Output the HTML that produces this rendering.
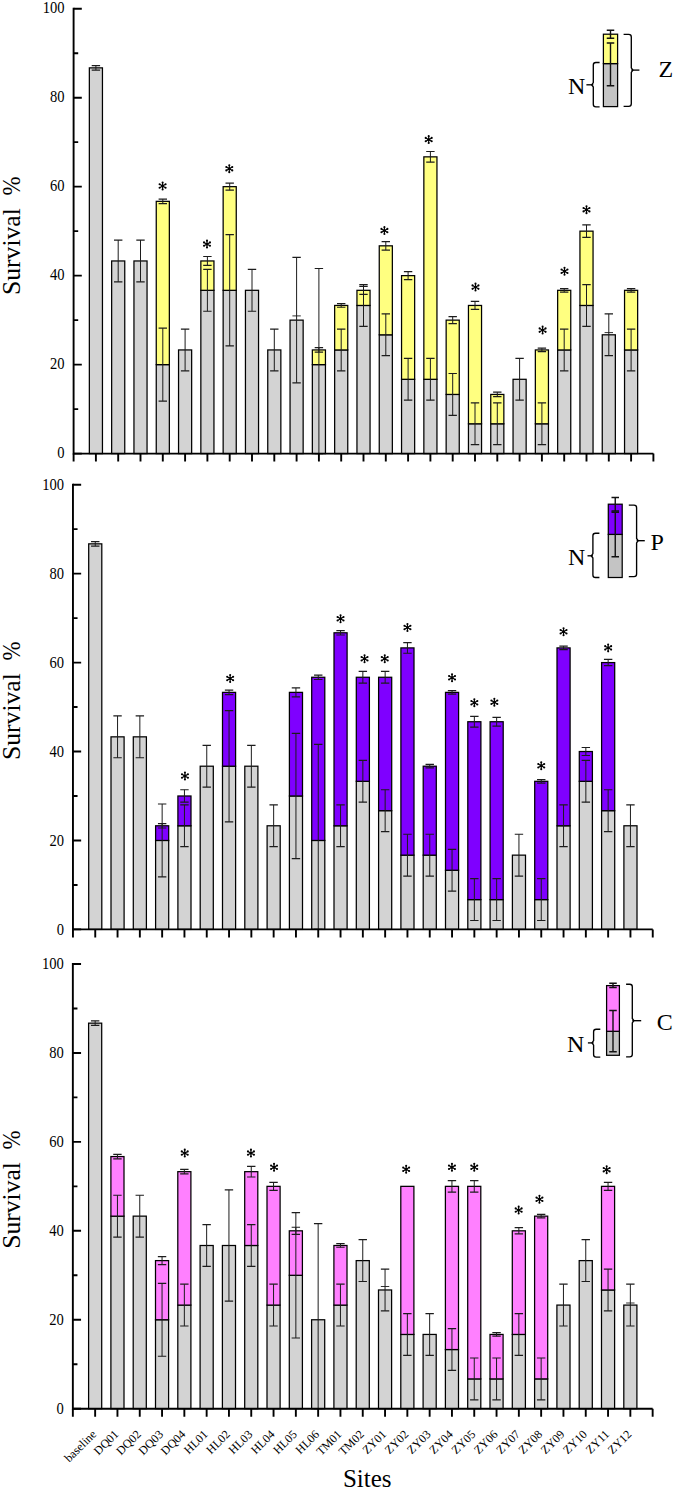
<!DOCTYPE html><html><head><meta charset="utf-8"><title>Survival chart</title><style>
html,body{margin:0;padding:0;background:#fff;}
body{width:675px;height:1490px;overflow:hidden;}
svg{display:block;}
text{font-family:"Liberation Serif",serif;fill:#000;}
.tl{font-size:16px;text-anchor:end;}
.yt{font-size:26px;}
.lg{font-size:24px;}
.xl{font-size:12px;text-anchor:end;}
.xt{font-size:25px;text-anchor:middle;}
</style></head><body><svg width="675" height="1490" viewBox="0 0 675 1490"><rect width="675" height="1490" fill="#fff"/><rect x="89.35" y="67.87" width="13.1" height="385.73" fill="#d3d3d3" stroke="#000" stroke-width="1.25"/><rect x="111.65" y="260.96" width="13.1" height="192.64" fill="#d3d3d3" stroke="#000" stroke-width="1.25"/><rect x="133.95" y="260.96" width="13.1" height="192.64" fill="#d3d3d3" stroke="#000" stroke-width="1.25"/><rect x="156.25" y="364.62" width="13.1" height="88.98" fill="#d3d3d3" stroke="#000" stroke-width="1.25"/><rect x="156.25" y="201.34" width="13.1" height="163.28" fill="#ffff80" stroke="#000" stroke-width="1.25"/><rect x="178.55" y="349.94" width="13.1" height="103.66" fill="#d3d3d3" stroke="#000" stroke-width="1.25"/><rect x="200.85" y="290.32" width="13.1" height="163.28" fill="#d3d3d3" stroke="#000" stroke-width="1.25"/><rect x="200.85" y="260.96" width="13.1" height="29.36" fill="#ffff80" stroke="#000" stroke-width="1.25"/><rect x="223.15" y="290.32" width="13.1" height="163.28" fill="#d3d3d3" stroke="#000" stroke-width="1.25"/><rect x="223.15" y="186.66" width="13.1" height="103.66" fill="#ffff80" stroke="#000" stroke-width="1.25"/><rect x="245.45" y="290.32" width="13.1" height="163.28" fill="#d3d3d3" stroke="#000" stroke-width="1.25"/><rect x="267.75" y="349.94" width="13.1" height="103.66" fill="#d3d3d3" stroke="#000" stroke-width="1.25"/><rect x="290.05" y="320.13" width="13.1" height="133.47" fill="#d3d3d3" stroke="#000" stroke-width="1.25"/><rect x="312.35" y="364.62" width="13.1" height="88.98" fill="#d3d3d3" stroke="#000" stroke-width="1.25"/><rect x="312.35" y="349.94" width="13.1" height="14.68" fill="#ffff80" stroke="#000" stroke-width="1.25"/><rect x="334.65" y="349.94" width="13.1" height="103.66" fill="#d3d3d3" stroke="#000" stroke-width="1.25"/><rect x="334.65" y="305.45" width="13.1" height="44.49" fill="#ffff80" stroke="#000" stroke-width="1.25"/><rect x="356.95" y="305.45" width="13.1" height="148.15" fill="#d3d3d3" stroke="#000" stroke-width="1.25"/><rect x="356.95" y="290.32" width="13.1" height="15.13" fill="#ffff80" stroke="#000" stroke-width="1.25"/><rect x="379.25" y="334.81" width="13.1" height="118.79" fill="#d3d3d3" stroke="#000" stroke-width="1.25"/><rect x="379.25" y="245.83" width="13.1" height="88.98" fill="#ffff80" stroke="#000" stroke-width="1.25"/><rect x="401.55" y="379.3" width="13.1" height="74.3" fill="#d3d3d3" stroke="#000" stroke-width="1.25"/><rect x="401.55" y="275.64" width="13.1" height="103.66" fill="#ffff80" stroke="#000" stroke-width="1.25"/><rect x="423.85" y="379.3" width="13.1" height="74.3" fill="#d3d3d3" stroke="#000" stroke-width="1.25"/><rect x="423.85" y="156.85" width="13.1" height="222.45" fill="#ffff80" stroke="#000" stroke-width="1.25"/><rect x="446.15" y="394.43" width="13.1" height="59.17" fill="#d3d3d3" stroke="#000" stroke-width="1.25"/><rect x="446.15" y="320.13" width="13.1" height="74.3" fill="#ffff80" stroke="#000" stroke-width="1.25"/><rect x="468.45" y="423.79" width="13.1" height="29.81" fill="#d3d3d3" stroke="#000" stroke-width="1.25"/><rect x="468.45" y="305.45" width="13.1" height="118.34" fill="#ffff80" stroke="#000" stroke-width="1.25"/><rect x="490.75" y="423.79" width="13.1" height="29.81" fill="#d3d3d3" stroke="#000" stroke-width="1.25"/><rect x="490.75" y="394.43" width="13.1" height="29.36" fill="#ffff80" stroke="#000" stroke-width="1.25"/><rect x="513.05" y="379.3" width="13.1" height="74.3" fill="#d3d3d3" stroke="#000" stroke-width="1.25"/><rect x="535.35" y="423.79" width="13.1" height="29.81" fill="#d3d3d3" stroke="#000" stroke-width="1.25"/><rect x="535.35" y="349.94" width="13.1" height="73.85" fill="#ffff80" stroke="#000" stroke-width="1.25"/><rect x="557.65" y="349.94" width="13.1" height="103.66" fill="#d3d3d3" stroke="#000" stroke-width="1.25"/><rect x="557.65" y="290.32" width="13.1" height="59.62" fill="#ffff80" stroke="#000" stroke-width="1.25"/><rect x="579.95" y="305.45" width="13.1" height="148.15" fill="#d3d3d3" stroke="#000" stroke-width="1.25"/><rect x="579.95" y="231.15" width="13.1" height="74.3" fill="#ffff80" stroke="#000" stroke-width="1.25"/><rect x="602.25" y="334.81" width="13.1" height="118.79" fill="#d3d3d3" stroke="#000" stroke-width="1.25"/><rect x="624.55" y="349.94" width="13.1" height="103.66" fill="#d3d3d3" stroke="#000" stroke-width="1.25"/><rect x="624.55" y="290.32" width="13.1" height="59.62" fill="#ffff80" stroke="#000" stroke-width="1.25"/><path d="M95.9 65.65V70.1" stroke="#1c1c1c" stroke-width="1" fill="none"/><path d="M91.7 65.65H100.1M91.7 70.1H100.1" stroke="#1c1c1c" stroke-width="1.2" fill="none"/><path d="M118.2 240.05V281.87" stroke="#1c1c1c" stroke-width="1" fill="none"/><path d="M114 240.05H122.4M114 281.87H122.4" stroke="#1c1c1c" stroke-width="1.2" fill="none"/><path d="M140.5 240.05V281.87" stroke="#1c1c1c" stroke-width="1" fill="none"/><path d="M136.3 240.05H144.7M136.3 281.87H144.7" stroke="#1c1c1c" stroke-width="1.2" fill="none"/><path d="M162.8 328.14V401.1" stroke="#1c1c1c" stroke-width="1" fill="none"/><path d="M158.6 328.14H167M158.6 401.1H167" stroke="#1c1c1c" stroke-width="1.2" fill="none"/><path d="M162.8 199.12V203.57" stroke="#1c1c1c" stroke-width="1" fill="none"/><path d="M158.6 199.12H167M158.6 203.57H167" stroke="#1c1c1c" stroke-width="1.2" fill="none"/><path d="M185.1 329.03V370.85" stroke="#1c1c1c" stroke-width="1" fill="none"/><path d="M180.9 329.03H189.3M180.9 370.85H189.3" stroke="#1c1c1c" stroke-width="1.2" fill="none"/><path d="M207.4 269.41V311.23" stroke="#1c1c1c" stroke-width="1" fill="none"/><path d="M203.2 269.41H211.6M203.2 311.23H211.6" stroke="#1c1c1c" stroke-width="1.2" fill="none"/><path d="M207.4 256.51V265.41" stroke="#1c1c1c" stroke-width="1" fill="none"/><path d="M203.2 256.51H211.6M203.2 265.41H211.6" stroke="#1c1c1c" stroke-width="1.2" fill="none"/><path d="M229.7 234.71V345.93" stroke="#1c1c1c" stroke-width="1" fill="none"/><path d="M225.5 234.71H233.9M225.5 345.93H233.9" stroke="#1c1c1c" stroke-width="1.2" fill="none"/><path d="M229.7 183.1V190.22" stroke="#1c1c1c" stroke-width="1" fill="none"/><path d="M225.5 183.1H233.9M225.5 190.22H233.9" stroke="#1c1c1c" stroke-width="1.2" fill="none"/><path d="M252 269.41V311.23" stroke="#1c1c1c" stroke-width="1" fill="none"/><path d="M247.8 269.41H256.2M247.8 311.23H256.2" stroke="#1c1c1c" stroke-width="1.2" fill="none"/><path d="M274.3 329.03V370.85" stroke="#1c1c1c" stroke-width="1" fill="none"/><path d="M270.1 329.03H278.5M270.1 370.85H278.5" stroke="#1c1c1c" stroke-width="1.2" fill="none"/><path d="M296.6 257.4V382.86" stroke="#1c1c1c" stroke-width="1" fill="none"/><path d="M292.4 257.4H300.8M292.4 382.86H300.8" stroke="#1c1c1c" stroke-width="1.2" fill="none"/><path d="M318.9 268.52V453.6" stroke="#1c1c1c" stroke-width="1" fill="none"/><path d="M314.7 268.52H323.1M314.7 453.6H323.1" stroke="#1c1c1c" stroke-width="1.2" fill="none"/><path d="M318.9 347.71V352.16" stroke="#1c1c1c" stroke-width="1" fill="none"/><path d="M314.7 347.71H323.1M314.7 352.16H323.1" stroke="#1c1c1c" stroke-width="1.2" fill="none"/><path d="M341.2 329.03V370.85" stroke="#1c1c1c" stroke-width="1" fill="none"/><path d="M337 329.03H345.4M337 370.85H345.4" stroke="#1c1c1c" stroke-width="1.2" fill="none"/><path d="M341.2 303.67V307.23" stroke="#1c1c1c" stroke-width="1" fill="none"/><path d="M337 303.67H345.4M337 307.23H345.4" stroke="#1c1c1c" stroke-width="1.2" fill="none"/><path d="M363.5 284.54V326.36" stroke="#1c1c1c" stroke-width="1" fill="none"/><path d="M359.3 284.54H367.7M359.3 326.36H367.7" stroke="#1c1c1c" stroke-width="1.2" fill="none"/><path d="M363.5 286.32V294.33" stroke="#1c1c1c" stroke-width="1" fill="none"/><path d="M359.3 286.32H367.7M359.3 294.33H367.7" stroke="#1c1c1c" stroke-width="1.2" fill="none"/><path d="M385.8 313.9V355.72" stroke="#1c1c1c" stroke-width="1" fill="none"/><path d="M381.6 313.9H390M381.6 355.72H390" stroke="#1c1c1c" stroke-width="1.2" fill="none"/><path d="M385.8 241.61V250.06" stroke="#1c1c1c" stroke-width="1" fill="none"/><path d="M381.6 241.61H390M381.6 250.06H390" stroke="#1c1c1c" stroke-width="1.2" fill="none"/><path d="M408.1 358.39V400.21" stroke="#1c1c1c" stroke-width="1" fill="none"/><path d="M403.9 358.39H412.3M403.9 400.21H412.3" stroke="#1c1c1c" stroke-width="1.2" fill="none"/><path d="M408.1 271.64V279.64" stroke="#1c1c1c" stroke-width="1" fill="none"/><path d="M403.9 271.64H412.3M403.9 279.64H412.3" stroke="#1c1c1c" stroke-width="1.2" fill="none"/><path d="M430.4 358.39V400.21" stroke="#1c1c1c" stroke-width="1" fill="none"/><path d="M426.2 358.39H434.6M426.2 400.21H434.6" stroke="#1c1c1c" stroke-width="1.2" fill="none"/><path d="M430.4 151.51V162.19" stroke="#1c1c1c" stroke-width="1" fill="none"/><path d="M426.2 151.51H434.6M426.2 162.19H434.6" stroke="#1c1c1c" stroke-width="1.2" fill="none"/><path d="M452.7 373.52V415.34" stroke="#1c1c1c" stroke-width="1" fill="none"/><path d="M448.5 373.52H456.9M448.5 415.34H456.9" stroke="#1c1c1c" stroke-width="1.2" fill="none"/><path d="M452.7 316.57V323.69" stroke="#1c1c1c" stroke-width="1" fill="none"/><path d="M448.5 316.57H456.9M448.5 323.69H456.9" stroke="#1c1c1c" stroke-width="1.2" fill="none"/><path d="M475 402.88V444.7" stroke="#1c1c1c" stroke-width="1" fill="none"/><path d="M470.8 402.88H479.2M470.8 444.7H479.2" stroke="#1c1c1c" stroke-width="1.2" fill="none"/><path d="M475 301.44V309.45" stroke="#1c1c1c" stroke-width="1" fill="none"/><path d="M470.8 301.44H479.2M470.8 309.45H479.2" stroke="#1c1c1c" stroke-width="1.2" fill="none"/><path d="M497.3 402.88V444.7" stroke="#1c1c1c" stroke-width="1" fill="none"/><path d="M493.1 402.88H501.5M493.1 444.7H501.5" stroke="#1c1c1c" stroke-width="1.2" fill="none"/><path d="M497.3 392.2V396.65" stroke="#1c1c1c" stroke-width="1" fill="none"/><path d="M493.1 392.2H501.5M493.1 396.65H501.5" stroke="#1c1c1c" stroke-width="1.2" fill="none"/><path d="M519.6 358.39V400.21" stroke="#1c1c1c" stroke-width="1" fill="none"/><path d="M515.4 358.39H523.8M515.4 400.21H523.8" stroke="#1c1c1c" stroke-width="1.2" fill="none"/><path d="M541.9 402.88V444.7" stroke="#1c1c1c" stroke-width="1" fill="none"/><path d="M537.7 402.88H546.1M537.7 444.7H546.1" stroke="#1c1c1c" stroke-width="1.2" fill="none"/><path d="M541.9 348.16V351.72" stroke="#1c1c1c" stroke-width="1" fill="none"/><path d="M537.7 348.16H546.1M537.7 351.72H546.1" stroke="#1c1c1c" stroke-width="1.2" fill="none"/><path d="M564.2 329.03V370.85" stroke="#1c1c1c" stroke-width="1" fill="none"/><path d="M560 329.03H568.4M560 370.85H568.4" stroke="#1c1c1c" stroke-width="1.2" fill="none"/><path d="M564.2 288.54V292.1" stroke="#1c1c1c" stroke-width="1" fill="none"/><path d="M560 288.54H568.4M560 292.1H568.4" stroke="#1c1c1c" stroke-width="1.2" fill="none"/><path d="M586.5 284.54V326.36" stroke="#1c1c1c" stroke-width="1" fill="none"/><path d="M582.3 284.54H590.7M582.3 326.36H590.7" stroke="#1c1c1c" stroke-width="1.2" fill="none"/><path d="M586.5 224.92V237.38" stroke="#1c1c1c" stroke-width="1" fill="none"/><path d="M582.3 224.92H590.7M582.3 237.38H590.7" stroke="#1c1c1c" stroke-width="1.2" fill="none"/><path d="M608.8 313.9V355.72" stroke="#1c1c1c" stroke-width="1" fill="none"/><path d="M604.6 313.9H613M604.6 355.72H613" stroke="#1c1c1c" stroke-width="1.2" fill="none"/><path d="M631.1 329.03V370.85" stroke="#1c1c1c" stroke-width="1" fill="none"/><path d="M626.9 329.03H635.3M626.9 370.85H635.3" stroke="#1c1c1c" stroke-width="1.2" fill="none"/><path d="M631.1 288.54V292.1" stroke="#1c1c1c" stroke-width="1" fill="none"/><path d="M626.9 288.54H635.3M626.9 292.1H635.3" stroke="#1c1c1c" stroke-width="1.2" fill="none"/><path d="M162.6 182.55L162.6 189.45M159.61 184.28L165.59 187.72M165.59 184.28L159.61 187.72" stroke="#000" stroke-width="1.15"/><circle cx="162.6" cy="182.55" r="1.05"/><circle cx="162.6" cy="189.45" r="1.05"/><circle cx="159.61" cy="184.28" r="1.05"/><circle cx="165.59" cy="187.72" r="1.05"/><circle cx="165.59" cy="184.28" r="1.05"/><circle cx="159.61" cy="187.72" r="1.05"/><circle cx="162.6" cy="186" r="1.45"/><path d="M207 240.65L207 247.55M204.01 242.38L209.99 245.82M209.99 242.38L204.01 245.82" stroke="#000" stroke-width="1.15"/><circle cx="207" cy="240.65" r="1.05"/><circle cx="207" cy="247.55" r="1.05"/><circle cx="204.01" cy="242.38" r="1.05"/><circle cx="209.99" cy="245.82" r="1.05"/><circle cx="209.99" cy="242.38" r="1.05"/><circle cx="204.01" cy="245.82" r="1.05"/><circle cx="207" cy="244.1" r="1.45"/><path d="M229.3 165.25L229.3 172.15M226.31 166.97L232.29 170.42M232.29 166.97L226.31 170.42" stroke="#000" stroke-width="1.15"/><circle cx="229.3" cy="165.25" r="1.05"/><circle cx="229.3" cy="172.15" r="1.05"/><circle cx="226.31" cy="166.97" r="1.05"/><circle cx="232.29" cy="170.42" r="1.05"/><circle cx="232.29" cy="166.97" r="1.05"/><circle cx="226.31" cy="170.42" r="1.05"/><circle cx="229.3" cy="168.7" r="1.45"/><path d="M384.4 227.15L384.4 234.05M381.41 228.88L387.39 232.32M387.39 228.88L381.41 232.32" stroke="#000" stroke-width="1.15"/><circle cx="384.4" cy="227.15" r="1.05"/><circle cx="384.4" cy="234.05" r="1.05"/><circle cx="381.41" cy="228.88" r="1.05"/><circle cx="387.39" cy="232.32" r="1.05"/><circle cx="387.39" cy="228.88" r="1.05"/><circle cx="381.41" cy="232.32" r="1.05"/><circle cx="384.4" cy="230.6" r="1.45"/><path d="M428.7 136.15L428.7 143.05M425.71 137.88L431.69 141.32M431.69 137.88L425.71 141.32" stroke="#000" stroke-width="1.15"/><circle cx="428.7" cy="136.15" r="1.05"/><circle cx="428.7" cy="143.05" r="1.05"/><circle cx="425.71" cy="137.88" r="1.05"/><circle cx="431.69" cy="141.32" r="1.05"/><circle cx="431.69" cy="137.88" r="1.05"/><circle cx="425.71" cy="141.32" r="1.05"/><circle cx="428.7" cy="139.6" r="1.45"/><path d="M475.5 283.65L475.5 290.55M472.51 285.38L478.49 288.83M478.49 285.38L472.51 288.83" stroke="#000" stroke-width="1.15"/><circle cx="475.5" cy="283.65" r="1.05"/><circle cx="475.5" cy="290.55" r="1.05"/><circle cx="472.51" cy="285.38" r="1.05"/><circle cx="478.49" cy="288.83" r="1.05"/><circle cx="478.49" cy="285.38" r="1.05"/><circle cx="472.51" cy="288.83" r="1.05"/><circle cx="475.5" cy="287.1" r="1.45"/><path d="M542.6 326.65L542.6 333.55M539.61 328.38L545.59 331.83M545.59 328.38L539.61 331.83" stroke="#000" stroke-width="1.15"/><circle cx="542.6" cy="326.65" r="1.05"/><circle cx="542.6" cy="333.55" r="1.05"/><circle cx="539.61" cy="328.38" r="1.05"/><circle cx="545.59" cy="331.83" r="1.05"/><circle cx="545.59" cy="328.38" r="1.05"/><circle cx="539.61" cy="331.83" r="1.05"/><circle cx="542.6" cy="330.1" r="1.45"/><path d="M564.5 267.85L564.5 274.75M561.51 269.57L567.49 273.03M567.49 269.57L561.51 273.03" stroke="#000" stroke-width="1.15"/><circle cx="564.5" cy="267.85" r="1.05"/><circle cx="564.5" cy="274.75" r="1.05"/><circle cx="561.51" cy="269.57" r="1.05"/><circle cx="567.49" cy="273.03" r="1.05"/><circle cx="567.49" cy="269.57" r="1.05"/><circle cx="561.51" cy="273.03" r="1.05"/><circle cx="564.5" cy="271.3" r="1.45"/><path d="M586.5 206.25L586.5 213.15M583.51 207.97L589.49 211.42M589.49 207.97L583.51 211.42" stroke="#000" stroke-width="1.15"/><circle cx="586.5" cy="206.25" r="1.05"/><circle cx="586.5" cy="213.15" r="1.05"/><circle cx="583.51" cy="207.97" r="1.05"/><circle cx="589.49" cy="211.42" r="1.05"/><circle cx="589.49" cy="207.97" r="1.05"/><circle cx="583.51" cy="211.42" r="1.05"/><circle cx="586.5" cy="209.7" r="1.45"/><path d="M292.4 315.9H300.8" stroke="#1c1c1c" stroke-width="0.9"/><path d="M604.6 332.6H613" stroke="#1c1c1c" stroke-width="0.9"/><path d="M73.6 7.8V453.6H653.4" stroke="#000" stroke-width="1.9" fill="none"/><path d="M73.6 453.6H81.8M73.6 409.11H78.2M73.6 364.62H81.8M73.6 320.13H78.2M73.6 275.64H81.8M73.6 231.15H78.2M73.6 186.66H81.8M73.6 142.17H78.2M73.6 97.68H81.8M73.6 53.19H78.2M73.6 8.7H81.8M73.6 453.6V461.6M95.9 453.6V461.6M118.2 453.6V461.6M140.5 453.6V461.6M162.8 453.6V461.6M185.1 453.6V461.6M207.4 453.6V461.6M229.7 453.6V461.6M252 453.6V461.6M274.3 453.6V461.6M296.6 453.6V461.6M318.9 453.6V461.6M341.2 453.6V461.6M363.5 453.6V461.6M385.8 453.6V461.6M408.1 453.6V461.6M430.4 453.6V461.6M452.7 453.6V461.6M475 453.6V461.6M497.3 453.6V461.6M519.6 453.6V461.6M541.9 453.6V461.6M564.2 453.6V461.6M586.5 453.6V461.6M608.8 453.6V461.6M631.1 453.6V461.6M653.4 453.6V461.6" stroke="#000" stroke-width="1.9" fill="none"/><text transform="translate(64.6 458.3) scale(0.91 1)" class="tl">0</text><text transform="translate(64.6 369.32) scale(0.91 1)" class="tl">20</text><text transform="translate(64.6 280.34) scale(0.91 1)" class="tl">40</text><text transform="translate(64.6 191.36) scale(0.91 1)" class="tl">60</text><text transform="translate(64.6 102.38) scale(0.91 1)" class="tl">80</text><text transform="translate(64.6 13.4) scale(0.91 1)" class="tl">100</text><text transform="translate(20.2 294.95) rotate(-90) scale(0.985 1)" class="yt">Survival</text><text transform="translate(20.2 195.55) rotate(-90) scale(0.88 1)" class="yt">%</text><rect x="603.4" y="63.6" width="14.2" height="43" fill="#c4c4c4" stroke="#000" stroke-width="1.25"/><rect x="603.4" y="34.2" width="14.2" height="29.4" fill="#ffff80" stroke="#000" stroke-width="1.25"/><path d="M610.5 30.3V38.3" stroke="#111" stroke-width="1.4" fill="none"/><path d="M606.75 30.3H614.25M606.75 38.3H614.25" stroke="#111" stroke-width="1.5" fill="none"/><path d="M610.5 43.1V85.8" stroke="#111" stroke-width="1.4" fill="none"/><path d="M606.75 43.1H614.25M606.75 85.8H614.25" stroke="#111" stroke-width="1.5" fill="none"/><path d="M599.6 62.5 L595.9 62.5 Q593.3 62.5 593.3 65.1 L593.3 82.6 L591.7 84.8 L593.3 87 L593.3 104.2 Q593.3 106.8 595.9 106.8 L599.6 106.8" stroke="#000" stroke-width="1.35" fill="none" stroke-linejoin="round"/><path d="M586.4 84.8H593.3" stroke="#000" stroke-width="1.35"/><path d="M623.6 34.4 L628.7 34.4 Q631.3 34.4 631.3 37 L631.3 67.9 L632.9 70.1 L631.3 72.3 L631.3 103.7 Q631.3 106.3 628.7 106.3 L623.6 106.3" stroke="#000" stroke-width="1.35" fill="none" stroke-linejoin="round"/><path d="M639.4 70.1H631.3" stroke="#000" stroke-width="1.35"/><text x="567.9" y="93.8" class="lg">N</text><text x="658.6" y="77.2" class="lg">Z</text>
<rect x="88.7" y="543.85" width="13.1" height="385.55" fill="#d3d3d3" stroke="#000" stroke-width="1.25"/><rect x="111" y="736.84" width="13.1" height="192.56" fill="#d3d3d3" stroke="#000" stroke-width="1.25"/><rect x="133.3" y="736.84" width="13.1" height="192.56" fill="#d3d3d3" stroke="#000" stroke-width="1.25"/><rect x="155.6" y="840.46" width="13.1" height="88.94" fill="#d3d3d3" stroke="#000" stroke-width="1.25"/><rect x="155.6" y="825.78" width="13.1" height="14.68" fill="#7f00ff" stroke="#000" stroke-width="1.25"/><rect x="177.9" y="825.78" width="13.1" height="103.62" fill="#d3d3d3" stroke="#000" stroke-width="1.25"/><rect x="177.9" y="795.99" width="13.1" height="29.79" fill="#7f00ff" stroke="#000" stroke-width="1.25"/><rect x="200.2" y="766.2" width="13.1" height="163.2" fill="#d3d3d3" stroke="#000" stroke-width="1.25"/><rect x="222.5" y="766.2" width="13.1" height="163.2" fill="#d3d3d3" stroke="#000" stroke-width="1.25"/><rect x="222.5" y="692.37" width="13.1" height="73.82" fill="#7f00ff" stroke="#000" stroke-width="1.25"/><rect x="244.8" y="766.2" width="13.1" height="163.2" fill="#d3d3d3" stroke="#000" stroke-width="1.25"/><rect x="267.1" y="825.78" width="13.1" height="103.62" fill="#d3d3d3" stroke="#000" stroke-width="1.25"/><rect x="289.4" y="795.99" width="13.1" height="133.41" fill="#d3d3d3" stroke="#000" stroke-width="1.25"/><rect x="289.4" y="692.37" width="13.1" height="103.62" fill="#7f00ff" stroke="#000" stroke-width="1.25"/><rect x="311.7" y="840.46" width="13.1" height="88.94" fill="#d3d3d3" stroke="#000" stroke-width="1.25"/><rect x="311.7" y="677.26" width="13.1" height="163.2" fill="#7f00ff" stroke="#000" stroke-width="1.25"/><rect x="334" y="825.78" width="13.1" height="103.62" fill="#d3d3d3" stroke="#000" stroke-width="1.25"/><rect x="334" y="632.79" width="13.1" height="193" fill="#7f00ff" stroke="#000" stroke-width="1.25"/><rect x="356.3" y="781.31" width="13.1" height="148.09" fill="#d3d3d3" stroke="#000" stroke-width="1.25"/><rect x="356.3" y="677.26" width="13.1" height="104.06" fill="#7f00ff" stroke="#000" stroke-width="1.25"/><rect x="378.6" y="810.67" width="13.1" height="118.73" fill="#d3d3d3" stroke="#000" stroke-width="1.25"/><rect x="378.6" y="677.26" width="13.1" height="133.41" fill="#7f00ff" stroke="#000" stroke-width="1.25"/><rect x="400.9" y="855.14" width="13.1" height="74.26" fill="#d3d3d3" stroke="#000" stroke-width="1.25"/><rect x="400.9" y="647.9" width="13.1" height="207.23" fill="#7f00ff" stroke="#000" stroke-width="1.25"/><rect x="423.2" y="855.14" width="13.1" height="74.26" fill="#d3d3d3" stroke="#000" stroke-width="1.25"/><rect x="423.2" y="766.2" width="13.1" height="88.94" fill="#7f00ff" stroke="#000" stroke-width="1.25"/><rect x="445.5" y="870.25" width="13.1" height="59.15" fill="#d3d3d3" stroke="#000" stroke-width="1.25"/><rect x="445.5" y="692.37" width="13.1" height="177.88" fill="#7f00ff" stroke="#000" stroke-width="1.25"/><rect x="467.8" y="899.61" width="13.1" height="29.79" fill="#d3d3d3" stroke="#000" stroke-width="1.25"/><rect x="467.8" y="721.73" width="13.1" height="177.88" fill="#7f00ff" stroke="#000" stroke-width="1.25"/><rect x="490.1" y="899.61" width="13.1" height="29.79" fill="#d3d3d3" stroke="#000" stroke-width="1.25"/><rect x="490.1" y="721.73" width="13.1" height="177.88" fill="#7f00ff" stroke="#000" stroke-width="1.25"/><rect x="512.4" y="855.14" width="13.1" height="74.26" fill="#d3d3d3" stroke="#000" stroke-width="1.25"/><rect x="534.7" y="899.61" width="13.1" height="29.79" fill="#d3d3d3" stroke="#000" stroke-width="1.25"/><rect x="534.7" y="781.31" width="13.1" height="118.29" fill="#7f00ff" stroke="#000" stroke-width="1.25"/><rect x="557" y="825.78" width="13.1" height="103.62" fill="#d3d3d3" stroke="#000" stroke-width="1.25"/><rect x="557" y="647.9" width="13.1" height="177.88" fill="#7f00ff" stroke="#000" stroke-width="1.25"/><rect x="579.3" y="781.31" width="13.1" height="148.09" fill="#d3d3d3" stroke="#000" stroke-width="1.25"/><rect x="579.3" y="751.52" width="13.1" height="29.79" fill="#7f00ff" stroke="#000" stroke-width="1.25"/><rect x="601.6" y="810.67" width="13.1" height="118.73" fill="#d3d3d3" stroke="#000" stroke-width="1.25"/><rect x="601.6" y="662.58" width="13.1" height="148.09" fill="#7f00ff" stroke="#000" stroke-width="1.25"/><rect x="623.9" y="825.78" width="13.1" height="103.62" fill="#d3d3d3" stroke="#000" stroke-width="1.25"/><path d="M95.25 541.62V546.07" stroke="#1c1c1c" stroke-width="1" fill="none"/><path d="M91.05 541.62H99.45M91.05 546.07H99.45" stroke="#1c1c1c" stroke-width="1.2" fill="none"/><path d="M117.55 715.94V757.75" stroke="#1c1c1c" stroke-width="1" fill="none"/><path d="M113.35 715.94H121.75M113.35 757.75H121.75" stroke="#1c1c1c" stroke-width="1.2" fill="none"/><path d="M139.85 715.94V757.75" stroke="#1c1c1c" stroke-width="1" fill="none"/><path d="M135.65 715.94H144.05M135.65 757.75H144.05" stroke="#1c1c1c" stroke-width="1.2" fill="none"/><path d="M162.15 803.99V876.93" stroke="#1c1c1c" stroke-width="1" fill="none"/><path d="M157.95 803.99H166.35M157.95 876.93H166.35" stroke="#1c1c1c" stroke-width="1.2" fill="none"/><path d="M162.15 823.56V828.01" stroke="#1c1c1c" stroke-width="1" fill="none"/><path d="M157.95 823.56H166.35M157.95 828.01H166.35" stroke="#1c1c1c" stroke-width="1.2" fill="none"/><path d="M184.45 804.88V846.69" stroke="#1c1c1c" stroke-width="1" fill="none"/><path d="M180.25 804.88H188.65M180.25 846.69H188.65" stroke="#1c1c1c" stroke-width="1.2" fill="none"/><path d="M184.45 789.76V802.22" stroke="#1c1c1c" stroke-width="1" fill="none"/><path d="M180.25 789.76H188.65M180.25 802.22H188.65" stroke="#1c1c1c" stroke-width="1.2" fill="none"/><path d="M206.75 745.29V787.1" stroke="#1c1c1c" stroke-width="1" fill="none"/><path d="M202.55 745.29H210.95M202.55 787.1H210.95" stroke="#1c1c1c" stroke-width="1.2" fill="none"/><path d="M229.05 710.61V821.78" stroke="#1c1c1c" stroke-width="1" fill="none"/><path d="M224.85 710.61H233.25M224.85 821.78H233.25" stroke="#1c1c1c" stroke-width="1.2" fill="none"/><path d="M229.05 690.15V694.6" stroke="#1c1c1c" stroke-width="1" fill="none"/><path d="M224.85 690.15H233.25M224.85 694.6H233.25" stroke="#1c1c1c" stroke-width="1.2" fill="none"/><path d="M251.35 745.29V787.1" stroke="#1c1c1c" stroke-width="1" fill="none"/><path d="M247.15 745.29H255.55M247.15 787.1H255.55" stroke="#1c1c1c" stroke-width="1.2" fill="none"/><path d="M273.65 804.88V846.69" stroke="#1c1c1c" stroke-width="1" fill="none"/><path d="M269.45 804.88H277.85M269.45 846.69H277.85" stroke="#1c1c1c" stroke-width="1.2" fill="none"/><path d="M295.95 733.29V858.69" stroke="#1c1c1c" stroke-width="1" fill="none"/><path d="M291.75 733.29H300.15M291.75 858.69H300.15" stroke="#1c1c1c" stroke-width="1.2" fill="none"/><path d="M295.95 687.93V696.82" stroke="#1c1c1c" stroke-width="1" fill="none"/><path d="M291.75 687.93H300.15M291.75 696.82H300.15" stroke="#1c1c1c" stroke-width="1.2" fill="none"/><path d="M318.25 744.4V929.4" stroke="#1c1c1c" stroke-width="1" fill="none"/><path d="M314.05 744.4H322.45M314.05 929.4H322.45" stroke="#1c1c1c" stroke-width="1.2" fill="none"/><path d="M318.25 675.03V679.48" stroke="#1c1c1c" stroke-width="1" fill="none"/><path d="M314.05 675.03H322.45M314.05 679.48H322.45" stroke="#1c1c1c" stroke-width="1.2" fill="none"/><path d="M340.55 804.88V846.69" stroke="#1c1c1c" stroke-width="1" fill="none"/><path d="M336.35 804.88H344.75M336.35 846.69H344.75" stroke="#1c1c1c" stroke-width="1.2" fill="none"/><path d="M340.55 630.56V635.01" stroke="#1c1c1c" stroke-width="1" fill="none"/><path d="M336.35 630.56H344.75M336.35 635.01H344.75" stroke="#1c1c1c" stroke-width="1.2" fill="none"/><path d="M362.85 760.41V802.22" stroke="#1c1c1c" stroke-width="1" fill="none"/><path d="M358.65 760.41H367.05M358.65 802.22H367.05" stroke="#1c1c1c" stroke-width="1.2" fill="none"/><path d="M362.85 671.47V683.04" stroke="#1c1c1c" stroke-width="1" fill="none"/><path d="M358.65 671.47H367.05M358.65 683.04H367.05" stroke="#1c1c1c" stroke-width="1.2" fill="none"/><path d="M385.15 789.76V831.57" stroke="#1c1c1c" stroke-width="1" fill="none"/><path d="M380.95 789.76H389.35M380.95 831.57H389.35" stroke="#1c1c1c" stroke-width="1.2" fill="none"/><path d="M385.15 671.47V683.04" stroke="#1c1c1c" stroke-width="1" fill="none"/><path d="M380.95 671.47H389.35M380.95 683.04H389.35" stroke="#1c1c1c" stroke-width="1.2" fill="none"/><path d="M407.45 834.23V876.04" stroke="#1c1c1c" stroke-width="1" fill="none"/><path d="M403.25 834.23H411.65M403.25 876.04H411.65" stroke="#1c1c1c" stroke-width="1.2" fill="none"/><path d="M407.45 642.57V653.24" stroke="#1c1c1c" stroke-width="1" fill="none"/><path d="M403.25 642.57H411.65M403.25 653.24H411.65" stroke="#1c1c1c" stroke-width="1.2" fill="none"/><path d="M429.75 834.23V876.04" stroke="#1c1c1c" stroke-width="1" fill="none"/><path d="M425.55 834.23H433.95M425.55 876.04H433.95" stroke="#1c1c1c" stroke-width="1.2" fill="none"/><path d="M429.75 764.42V767.97" stroke="#1c1c1c" stroke-width="1" fill="none"/><path d="M425.55 764.42H433.95M425.55 767.97H433.95" stroke="#1c1c1c" stroke-width="1.2" fill="none"/><path d="M452.05 849.35V891.16" stroke="#1c1c1c" stroke-width="1" fill="none"/><path d="M447.85 849.35H456.25M447.85 891.16H456.25" stroke="#1c1c1c" stroke-width="1.2" fill="none"/><path d="M452.05 690.6V694.15" stroke="#1c1c1c" stroke-width="1" fill="none"/><path d="M447.85 690.6H456.25M447.85 694.15H456.25" stroke="#1c1c1c" stroke-width="1.2" fill="none"/><path d="M474.35 878.7V920.51" stroke="#1c1c1c" stroke-width="1" fill="none"/><path d="M470.15 878.7H478.55M470.15 920.51H478.55" stroke="#1c1c1c" stroke-width="1.2" fill="none"/><path d="M474.35 716.39V727.06" stroke="#1c1c1c" stroke-width="1" fill="none"/><path d="M470.15 716.39H478.55M470.15 727.06H478.55" stroke="#1c1c1c" stroke-width="1.2" fill="none"/><path d="M496.65 878.7V920.51" stroke="#1c1c1c" stroke-width="1" fill="none"/><path d="M492.45 878.7H500.85M492.45 920.51H500.85" stroke="#1c1c1c" stroke-width="1.2" fill="none"/><path d="M496.65 717.28V726.17" stroke="#1c1c1c" stroke-width="1" fill="none"/><path d="M492.45 717.28H500.85M492.45 726.17H500.85" stroke="#1c1c1c" stroke-width="1.2" fill="none"/><path d="M518.95 834.23V876.04" stroke="#1c1c1c" stroke-width="1" fill="none"/><path d="M514.75 834.23H523.15M514.75 876.04H523.15" stroke="#1c1c1c" stroke-width="1.2" fill="none"/><path d="M541.25 878.7V920.51" stroke="#1c1c1c" stroke-width="1" fill="none"/><path d="M537.05 878.7H545.45M537.05 920.51H545.45" stroke="#1c1c1c" stroke-width="1.2" fill="none"/><path d="M541.25 779.54V783.09" stroke="#1c1c1c" stroke-width="1" fill="none"/><path d="M537.05 779.54H545.45M537.05 783.09H545.45" stroke="#1c1c1c" stroke-width="1.2" fill="none"/><path d="M563.55 804.88V846.69" stroke="#1c1c1c" stroke-width="1" fill="none"/><path d="M559.35 804.88H567.75M559.35 846.69H567.75" stroke="#1c1c1c" stroke-width="1.2" fill="none"/><path d="M563.55 646.13V649.68" stroke="#1c1c1c" stroke-width="1" fill="none"/><path d="M559.35 646.13H567.75M559.35 649.68H567.75" stroke="#1c1c1c" stroke-width="1.2" fill="none"/><path d="M585.85 760.41V802.22" stroke="#1c1c1c" stroke-width="1" fill="none"/><path d="M581.65 760.41H590.05M581.65 802.22H590.05" stroke="#1c1c1c" stroke-width="1.2" fill="none"/><path d="M585.85 747.52V755.52" stroke="#1c1c1c" stroke-width="1" fill="none"/><path d="M581.65 747.52H590.05M581.65 755.52H590.05" stroke="#1c1c1c" stroke-width="1.2" fill="none"/><path d="M608.15 789.76V831.57" stroke="#1c1c1c" stroke-width="1" fill="none"/><path d="M603.95 789.76H612.35M603.95 831.57H612.35" stroke="#1c1c1c" stroke-width="1.2" fill="none"/><path d="M608.15 659.47V665.69" stroke="#1c1c1c" stroke-width="1" fill="none"/><path d="M603.95 659.47H612.35M603.95 665.69H612.35" stroke="#1c1c1c" stroke-width="1.2" fill="none"/><path d="M630.45 804.88V846.69" stroke="#1c1c1c" stroke-width="1" fill="none"/><path d="M626.25 804.88H634.65M626.25 846.69H634.65" stroke="#1c1c1c" stroke-width="1.2" fill="none"/><path d="M184.95 772.55L184.95 779.45M181.96 774.27L187.94 777.73M187.94 774.27L181.96 777.73" stroke="#000" stroke-width="1.15"/><circle cx="184.95" cy="772.55" r="1.05"/><circle cx="184.95" cy="779.45" r="1.05"/><circle cx="181.96" cy="774.27" r="1.05"/><circle cx="187.94" cy="777.73" r="1.05"/><circle cx="187.94" cy="774.27" r="1.05"/><circle cx="181.96" cy="777.73" r="1.05"/><circle cx="184.95" cy="776" r="1.45"/><path d="M230.15 675.05L230.15 681.95M227.16 676.77L233.14 680.23M233.14 676.77L227.16 680.23" stroke="#000" stroke-width="1.15"/><circle cx="230.15" cy="675.05" r="1.05"/><circle cx="230.15" cy="681.95" r="1.05"/><circle cx="227.16" cy="676.77" r="1.05"/><circle cx="233.14" cy="680.23" r="1.05"/><circle cx="233.14" cy="676.77" r="1.05"/><circle cx="227.16" cy="680.23" r="1.05"/><circle cx="230.15" cy="678.5" r="1.45"/><path d="M340.55 615.35L340.55 622.25M337.56 617.07L343.54 620.52M343.54 617.07L337.56 620.52" stroke="#000" stroke-width="1.15"/><circle cx="340.55" cy="615.35" r="1.05"/><circle cx="340.55" cy="622.25" r="1.05"/><circle cx="337.56" cy="617.07" r="1.05"/><circle cx="343.54" cy="620.52" r="1.05"/><circle cx="343.54" cy="617.07" r="1.05"/><circle cx="337.56" cy="620.52" r="1.05"/><circle cx="340.55" cy="618.8" r="1.45"/><path d="M364.55 655.35L364.55 662.25M361.56 657.07L367.54 660.52M367.54 657.07L361.56 660.52" stroke="#000" stroke-width="1.15"/><circle cx="364.55" cy="655.35" r="1.05"/><circle cx="364.55" cy="662.25" r="1.05"/><circle cx="361.56" cy="657.07" r="1.05"/><circle cx="367.54" cy="660.52" r="1.05"/><circle cx="367.54" cy="657.07" r="1.05"/><circle cx="361.56" cy="660.52" r="1.05"/><circle cx="364.55" cy="658.8" r="1.45"/><path d="M384.75 655.35L384.75 662.25M381.76 657.07L387.74 660.52M387.74 657.07L381.76 660.52" stroke="#000" stroke-width="1.15"/><circle cx="384.75" cy="655.35" r="1.05"/><circle cx="384.75" cy="662.25" r="1.05"/><circle cx="381.76" cy="657.07" r="1.05"/><circle cx="387.74" cy="660.52" r="1.05"/><circle cx="387.74" cy="657.07" r="1.05"/><circle cx="381.76" cy="660.52" r="1.05"/><circle cx="384.75" cy="658.8" r="1.45"/><path d="M407.45 624.05L407.45 630.95M404.46 625.77L410.44 629.23M410.44 625.77L404.46 629.23" stroke="#000" stroke-width="1.15"/><circle cx="407.45" cy="624.05" r="1.05"/><circle cx="407.45" cy="630.95" r="1.05"/><circle cx="404.46" cy="625.77" r="1.05"/><circle cx="410.44" cy="629.23" r="1.05"/><circle cx="410.44" cy="625.77" r="1.05"/><circle cx="404.46" cy="629.23" r="1.05"/><circle cx="407.45" cy="627.5" r="1.45"/><path d="M452.05 674.35L452.05 681.25M449.06 676.07L455.04 679.52M455.04 676.07L449.06 679.52" stroke="#000" stroke-width="1.15"/><circle cx="452.05" cy="674.35" r="1.05"/><circle cx="452.05" cy="681.25" r="1.05"/><circle cx="449.06" cy="676.07" r="1.05"/><circle cx="455.04" cy="679.52" r="1.05"/><circle cx="455.04" cy="676.07" r="1.05"/><circle cx="449.06" cy="679.52" r="1.05"/><circle cx="452.05" cy="677.8" r="1.45"/><path d="M474.35 699.25L474.35 706.15M471.36 700.98L477.34 704.43M477.34 700.98L471.36 704.43" stroke="#000" stroke-width="1.15"/><circle cx="474.35" cy="699.25" r="1.05"/><circle cx="474.35" cy="706.15" r="1.05"/><circle cx="471.36" cy="700.98" r="1.05"/><circle cx="477.34" cy="704.43" r="1.05"/><circle cx="477.34" cy="700.98" r="1.05"/><circle cx="471.36" cy="704.43" r="1.05"/><circle cx="474.35" cy="702.7" r="1.45"/><path d="M494.35 698.75L494.35 705.65M491.36 700.48L497.34 703.93M497.34 700.48L491.36 703.93" stroke="#000" stroke-width="1.15"/><circle cx="494.35" cy="698.75" r="1.05"/><circle cx="494.35" cy="705.65" r="1.05"/><circle cx="491.36" cy="700.48" r="1.05"/><circle cx="497.34" cy="703.93" r="1.05"/><circle cx="497.34" cy="700.48" r="1.05"/><circle cx="491.36" cy="703.93" r="1.05"/><circle cx="494.35" cy="702.2" r="1.45"/><path d="M541.25 762.35L541.25 769.25M538.26 764.07L544.24 767.52M544.24 764.07L538.26 767.52" stroke="#000" stroke-width="1.15"/><circle cx="541.25" cy="762.35" r="1.05"/><circle cx="541.25" cy="769.25" r="1.05"/><circle cx="538.26" cy="764.07" r="1.05"/><circle cx="544.24" cy="767.52" r="1.05"/><circle cx="544.24" cy="764.07" r="1.05"/><circle cx="538.26" cy="767.52" r="1.05"/><circle cx="541.25" cy="765.8" r="1.45"/><path d="M563.55 628.35L563.55 635.25M560.56 630.07L566.54 633.52M566.54 630.07L560.56 633.52" stroke="#000" stroke-width="1.15"/><circle cx="563.55" cy="628.35" r="1.05"/><circle cx="563.55" cy="635.25" r="1.05"/><circle cx="560.56" cy="630.07" r="1.05"/><circle cx="566.54" cy="633.52" r="1.05"/><circle cx="566.54" cy="630.07" r="1.05"/><circle cx="560.56" cy="633.52" r="1.05"/><circle cx="563.55" cy="631.8" r="1.45"/><path d="M608.15 644.45L608.15 651.35M605.16 646.17L611.14 649.62M611.14 646.17L605.16 649.62" stroke="#000" stroke-width="1.15"/><circle cx="608.15" cy="644.45" r="1.05"/><circle cx="608.15" cy="651.35" r="1.05"/><circle cx="605.16" cy="646.17" r="1.05"/><circle cx="611.14" cy="649.62" r="1.05"/><circle cx="611.14" cy="646.17" r="1.05"/><circle cx="605.16" cy="649.62" r="1.05"/><circle cx="608.15" cy="647.9" r="1.45"/><path d="M72.95 483.8V929.4H652.75" stroke="#000" stroke-width="1.9" fill="none"/><path d="M72.95 929.4H81.15M72.95 884.93H77.55M72.95 840.46H81.15M72.95 795.99H77.55M72.95 751.52H81.15M72.95 707.05H77.55M72.95 662.58H81.15M72.95 618.11H77.55M72.95 573.64H81.15M72.95 529.17H77.55M72.95 484.7H81.15M72.95 929.4V937.4M95.25 929.4V937.4M117.55 929.4V937.4M139.85 929.4V937.4M162.15 929.4V937.4M184.45 929.4V937.4M206.75 929.4V937.4M229.05 929.4V937.4M251.35 929.4V937.4M273.65 929.4V937.4M295.95 929.4V937.4M318.25 929.4V937.4M340.55 929.4V937.4M362.85 929.4V937.4M385.15 929.4V937.4M407.45 929.4V937.4M429.75 929.4V937.4M452.05 929.4V937.4M474.35 929.4V937.4M496.65 929.4V937.4M518.95 929.4V937.4M541.25 929.4V937.4M563.55 929.4V937.4M585.85 929.4V937.4M608.15 929.4V937.4M630.45 929.4V937.4M652.75 929.4V937.4" stroke="#000" stroke-width="1.9" fill="none"/><text transform="translate(63.95 934.7) scale(0.91 1)" class="tl">0</text><text transform="translate(63.95 845.76) scale(0.91 1)" class="tl">20</text><text transform="translate(63.95 756.82) scale(0.91 1)" class="tl">40</text><text transform="translate(63.95 667.88) scale(0.91 1)" class="tl">60</text><text transform="translate(63.95 578.94) scale(0.91 1)" class="tl">80</text><text transform="translate(63.95 490) scale(0.91 1)" class="tl">100</text><text transform="translate(20.2 759.95) rotate(-90) scale(0.985 1)" class="yt">Survival</text><text transform="translate(20.2 660.55) rotate(-90) scale(0.88 1)" class="yt">%</text><rect x="608.3" y="534.4" width="13.9" height="43.1" fill="#c4c4c4" stroke="#000" stroke-width="1.25"/><rect x="608.3" y="504.2" width="13.9" height="30.2" fill="#7f00ff" stroke="#000" stroke-width="1.25"/><path d="M615.25 497.5V511" stroke="#111" stroke-width="1.4" fill="none"/><path d="M611.5 497.5H619M611.5 511H619" stroke="#111" stroke-width="1.5" fill="none"/><path d="M615.25 512.2V556.7" stroke="#111" stroke-width="1.4" fill="none"/><path d="M611.5 512.2H619M611.5 556.7H619" stroke="#111" stroke-width="1.5" fill="none"/><path d="M599.4 533.2 L595.5 533.2 Q592.9 533.2 592.9 535.8 L592.9 553.6 L591.3 555.8 L592.9 558 L592.9 574.9 Q592.9 577.5 595.5 577.5 L599.4 577.5" stroke="#000" stroke-width="1.35" fill="none" stroke-linejoin="round"/><path d="M587.5 555.8H592.9" stroke="#000" stroke-width="1.35"/><path d="M628.8 505.1 L634 505.1 Q636.6 505.1 636.6 507.7 L636.6 538.5 L638.2 540.7 L636.6 542.9 L636.6 574 Q636.6 576.6 634 576.6 L628.8 576.6" stroke="#000" stroke-width="1.35" fill="none" stroke-linejoin="round"/><path d="M644.8 540.7H636.6" stroke="#000" stroke-width="1.35"/><text x="567.9" y="564.7" class="lg">N</text><text x="650.6" y="549.9" class="lg">P</text>
<rect x="88.6" y="1023.15" width="13.1" height="385.55" fill="#d3d3d3" stroke="#000" stroke-width="1.25"/><rect x="110.9" y="1216.14" width="13.1" height="192.56" fill="#d3d3d3" stroke="#000" stroke-width="1.25"/><rect x="110.9" y="1156.56" width="13.1" height="59.59" fill="#ff80ff" stroke="#000" stroke-width="1.25"/><rect x="133.2" y="1216.14" width="13.1" height="192.56" fill="#d3d3d3" stroke="#000" stroke-width="1.25"/><rect x="155.5" y="1319.76" width="13.1" height="88.94" fill="#d3d3d3" stroke="#000" stroke-width="1.25"/><rect x="155.5" y="1260.61" width="13.1" height="59.15" fill="#ff80ff" stroke="#000" stroke-width="1.25"/><rect x="177.8" y="1305.08" width="13.1" height="103.62" fill="#d3d3d3" stroke="#000" stroke-width="1.25"/><rect x="177.8" y="1171.67" width="13.1" height="133.41" fill="#ff80ff" stroke="#000" stroke-width="1.25"/><rect x="200.1" y="1245.5" width="13.1" height="163.2" fill="#d3d3d3" stroke="#000" stroke-width="1.25"/><rect x="222.4" y="1245.5" width="13.1" height="163.2" fill="#d3d3d3" stroke="#000" stroke-width="1.25"/><rect x="244.7" y="1245.5" width="13.1" height="163.2" fill="#d3d3d3" stroke="#000" stroke-width="1.25"/><rect x="244.7" y="1171.67" width="13.1" height="73.82" fill="#ff80ff" stroke="#000" stroke-width="1.25"/><rect x="267" y="1305.08" width="13.1" height="103.62" fill="#d3d3d3" stroke="#000" stroke-width="1.25"/><rect x="267" y="1186.35" width="13.1" height="118.73" fill="#ff80ff" stroke="#000" stroke-width="1.25"/><rect x="289.3" y="1275.29" width="13.1" height="133.41" fill="#d3d3d3" stroke="#000" stroke-width="1.25"/><rect x="289.3" y="1230.82" width="13.1" height="44.47" fill="#ff80ff" stroke="#000" stroke-width="1.25"/><rect x="311.6" y="1319.76" width="13.1" height="88.94" fill="#d3d3d3" stroke="#000" stroke-width="1.25"/><rect x="333.9" y="1305.08" width="13.1" height="103.62" fill="#d3d3d3" stroke="#000" stroke-width="1.25"/><rect x="333.9" y="1245.5" width="13.1" height="59.59" fill="#ff80ff" stroke="#000" stroke-width="1.25"/><rect x="356.2" y="1260.61" width="13.1" height="148.09" fill="#d3d3d3" stroke="#000" stroke-width="1.25"/><rect x="378.5" y="1289.97" width="13.1" height="118.73" fill="#d3d3d3" stroke="#000" stroke-width="1.25"/><rect x="400.8" y="1334.44" width="13.1" height="74.26" fill="#d3d3d3" stroke="#000" stroke-width="1.25"/><rect x="400.8" y="1186.35" width="13.1" height="148.09" fill="#ff80ff" stroke="#000" stroke-width="1.25"/><rect x="423.1" y="1334.44" width="13.1" height="74.26" fill="#d3d3d3" stroke="#000" stroke-width="1.25"/><rect x="445.4" y="1349.55" width="13.1" height="59.15" fill="#d3d3d3" stroke="#000" stroke-width="1.25"/><rect x="445.4" y="1186.35" width="13.1" height="163.2" fill="#ff80ff" stroke="#000" stroke-width="1.25"/><rect x="467.7" y="1378.91" width="13.1" height="29.79" fill="#d3d3d3" stroke="#000" stroke-width="1.25"/><rect x="467.7" y="1186.35" width="13.1" height="192.56" fill="#ff80ff" stroke="#000" stroke-width="1.25"/><rect x="490" y="1378.91" width="13.1" height="29.79" fill="#d3d3d3" stroke="#000" stroke-width="1.25"/><rect x="490" y="1334.44" width="13.1" height="44.47" fill="#ff80ff" stroke="#000" stroke-width="1.25"/><rect x="512.3" y="1334.44" width="13.1" height="74.26" fill="#d3d3d3" stroke="#000" stroke-width="1.25"/><rect x="512.3" y="1230.82" width="13.1" height="103.62" fill="#ff80ff" stroke="#000" stroke-width="1.25"/><rect x="534.6" y="1378.91" width="13.1" height="29.79" fill="#d3d3d3" stroke="#000" stroke-width="1.25"/><rect x="534.6" y="1216.14" width="13.1" height="162.76" fill="#ff80ff" stroke="#000" stroke-width="1.25"/><rect x="556.9" y="1305.08" width="13.1" height="103.62" fill="#d3d3d3" stroke="#000" stroke-width="1.25"/><rect x="579.2" y="1260.61" width="13.1" height="148.09" fill="#d3d3d3" stroke="#000" stroke-width="1.25"/><rect x="601.5" y="1289.97" width="13.1" height="118.73" fill="#d3d3d3" stroke="#000" stroke-width="1.25"/><rect x="601.5" y="1186.35" width="13.1" height="103.62" fill="#ff80ff" stroke="#000" stroke-width="1.25"/><rect x="623.8" y="1305.08" width="13.1" height="103.62" fill="#d3d3d3" stroke="#000" stroke-width="1.25"/><path d="M95.15 1020.92V1025.37" stroke="#1c1c1c" stroke-width="1" fill="none"/><path d="M90.95 1020.92H99.35M90.95 1025.37H99.35" stroke="#1c1c1c" stroke-width="1.2" fill="none"/><path d="M117.45 1195.24V1237.05" stroke="#1c1c1c" stroke-width="1" fill="none"/><path d="M113.25 1195.24H121.65M113.25 1237.05H121.65" stroke="#1c1c1c" stroke-width="1.2" fill="none"/><path d="M117.45 1154.33V1158.78" stroke="#1c1c1c" stroke-width="1" fill="none"/><path d="M113.25 1154.33H121.65M113.25 1158.78H121.65" stroke="#1c1c1c" stroke-width="1.2" fill="none"/><path d="M139.75 1195.24V1237.05" stroke="#1c1c1c" stroke-width="1" fill="none"/><path d="M135.55 1195.24H143.95M135.55 1237.05H143.95" stroke="#1c1c1c" stroke-width="1.2" fill="none"/><path d="M162.05 1283.29V1356.23" stroke="#1c1c1c" stroke-width="1" fill="none"/><path d="M157.85 1283.29H166.25M157.85 1356.23H166.25" stroke="#1c1c1c" stroke-width="1.2" fill="none"/><path d="M162.05 1256.61V1264.62" stroke="#1c1c1c" stroke-width="1" fill="none"/><path d="M157.85 1256.61H166.25M157.85 1264.62H166.25" stroke="#1c1c1c" stroke-width="1.2" fill="none"/><path d="M184.35 1284.18V1325.99" stroke="#1c1c1c" stroke-width="1" fill="none"/><path d="M180.15 1284.18H188.55M180.15 1325.99H188.55" stroke="#1c1c1c" stroke-width="1.2" fill="none"/><path d="M184.35 1169.45V1173.9" stroke="#1c1c1c" stroke-width="1" fill="none"/><path d="M180.15 1169.45H188.55M180.15 1173.9H188.55" stroke="#1c1c1c" stroke-width="1.2" fill="none"/><path d="M206.65 1224.59V1266.4" stroke="#1c1c1c" stroke-width="1" fill="none"/><path d="M202.45 1224.59H210.85M202.45 1266.4H210.85" stroke="#1c1c1c" stroke-width="1.2" fill="none"/><path d="M228.95 1189.91V1301.08" stroke="#1c1c1c" stroke-width="1" fill="none"/><path d="M224.75 1189.91H233.15M224.75 1301.08H233.15" stroke="#1c1c1c" stroke-width="1.2" fill="none"/><path d="M251.25 1224.59V1266.4" stroke="#1c1c1c" stroke-width="1" fill="none"/><path d="M247.05 1224.59H255.45M247.05 1266.4H255.45" stroke="#1c1c1c" stroke-width="1.2" fill="none"/><path d="M251.25 1166.34V1177.01" stroke="#1c1c1c" stroke-width="1" fill="none"/><path d="M247.05 1166.34H255.45M247.05 1177.01H255.45" stroke="#1c1c1c" stroke-width="1.2" fill="none"/><path d="M273.55 1284.18V1325.99" stroke="#1c1c1c" stroke-width="1" fill="none"/><path d="M269.35 1284.18H277.75M269.35 1325.99H277.75" stroke="#1c1c1c" stroke-width="1.2" fill="none"/><path d="M273.55 1182.35V1190.35" stroke="#1c1c1c" stroke-width="1" fill="none"/><path d="M269.35 1182.35H277.75M269.35 1190.35H277.75" stroke="#1c1c1c" stroke-width="1.2" fill="none"/><path d="M295.85 1212.59V1337.99" stroke="#1c1c1c" stroke-width="1" fill="none"/><path d="M291.65 1212.59H300.05M291.65 1337.99H300.05" stroke="#1c1c1c" stroke-width="1.2" fill="none"/><path d="M295.85 1227.26V1234.38" stroke="#1c1c1c" stroke-width="1" fill="none"/><path d="M291.65 1227.26H300.05M291.65 1234.38H300.05" stroke="#1c1c1c" stroke-width="1.2" fill="none"/><path d="M318.15 1223.7V1408.7" stroke="#1c1c1c" stroke-width="1" fill="none"/><path d="M313.95 1223.7H322.35M313.95 1408.7H322.35" stroke="#1c1c1c" stroke-width="1.2" fill="none"/><path d="M340.45 1284.18V1325.99" stroke="#1c1c1c" stroke-width="1" fill="none"/><path d="M336.25 1284.18H344.65M336.25 1325.99H344.65" stroke="#1c1c1c" stroke-width="1.2" fill="none"/><path d="M340.45 1243.72V1247.27" stroke="#1c1c1c" stroke-width="1" fill="none"/><path d="M336.25 1243.72H344.65M336.25 1247.27H344.65" stroke="#1c1c1c" stroke-width="1.2" fill="none"/><path d="M362.75 1239.71V1281.52" stroke="#1c1c1c" stroke-width="1" fill="none"/><path d="M358.55 1239.71H366.95M358.55 1281.52H366.95" stroke="#1c1c1c" stroke-width="1.2" fill="none"/><path d="M385.05 1269.06V1310.87" stroke="#1c1c1c" stroke-width="1" fill="none"/><path d="M380.85 1269.06H389.25M380.85 1310.87H389.25" stroke="#1c1c1c" stroke-width="1.2" fill="none"/><path d="M407.35 1313.53V1355.34" stroke="#1c1c1c" stroke-width="1" fill="none"/><path d="M403.15 1313.53H411.55M403.15 1355.34H411.55" stroke="#1c1c1c" stroke-width="1.2" fill="none"/><path d="M429.65 1313.53V1355.34" stroke="#1c1c1c" stroke-width="1" fill="none"/><path d="M425.45 1313.53H433.85M425.45 1355.34H433.85" stroke="#1c1c1c" stroke-width="1.2" fill="none"/><path d="M451.95 1328.65V1370.46" stroke="#1c1c1c" stroke-width="1" fill="none"/><path d="M447.75 1328.65H456.15M447.75 1370.46H456.15" stroke="#1c1c1c" stroke-width="1.2" fill="none"/><path d="M451.95 1180.57V1192.13" stroke="#1c1c1c" stroke-width="1" fill="none"/><path d="M447.75 1180.57H456.15M447.75 1192.13H456.15" stroke="#1c1c1c" stroke-width="1.2" fill="none"/><path d="M474.25 1358V1399.81" stroke="#1c1c1c" stroke-width="1" fill="none"/><path d="M470.05 1358H478.45M470.05 1399.81H478.45" stroke="#1c1c1c" stroke-width="1.2" fill="none"/><path d="M474.25 1180.57V1192.13" stroke="#1c1c1c" stroke-width="1" fill="none"/><path d="M470.05 1180.57H478.45M470.05 1192.13H478.45" stroke="#1c1c1c" stroke-width="1.2" fill="none"/><path d="M496.55 1358V1399.81" stroke="#1c1c1c" stroke-width="1" fill="none"/><path d="M492.35 1358H500.75M492.35 1399.81H500.75" stroke="#1c1c1c" stroke-width="1.2" fill="none"/><path d="M496.55 1332.66V1336.21" stroke="#1c1c1c" stroke-width="1" fill="none"/><path d="M492.35 1332.66H500.75M492.35 1336.21H500.75" stroke="#1c1c1c" stroke-width="1.2" fill="none"/><path d="M518.85 1313.53V1355.34" stroke="#1c1c1c" stroke-width="1" fill="none"/><path d="M514.65 1313.53H523.05M514.65 1355.34H523.05" stroke="#1c1c1c" stroke-width="1.2" fill="none"/><path d="M518.85 1227.71V1233.93" stroke="#1c1c1c" stroke-width="1" fill="none"/><path d="M514.65 1227.71H523.05M514.65 1233.93H523.05" stroke="#1c1c1c" stroke-width="1.2" fill="none"/><path d="M541.15 1358V1399.81" stroke="#1c1c1c" stroke-width="1" fill="none"/><path d="M536.95 1358H545.35M536.95 1399.81H545.35" stroke="#1c1c1c" stroke-width="1.2" fill="none"/><path d="M541.15 1214.37V1217.92" stroke="#1c1c1c" stroke-width="1" fill="none"/><path d="M536.95 1214.37H545.35M536.95 1217.92H545.35" stroke="#1c1c1c" stroke-width="1.2" fill="none"/><path d="M563.45 1284.18V1325.99" stroke="#1c1c1c" stroke-width="1" fill="none"/><path d="M559.25 1284.18H567.65M559.25 1325.99H567.65" stroke="#1c1c1c" stroke-width="1.2" fill="none"/><path d="M585.75 1239.71V1281.52" stroke="#1c1c1c" stroke-width="1" fill="none"/><path d="M581.55 1239.71H589.95M581.55 1281.52H589.95" stroke="#1c1c1c" stroke-width="1.2" fill="none"/><path d="M608.05 1269.06V1310.87" stroke="#1c1c1c" stroke-width="1" fill="none"/><path d="M603.85 1269.06H612.25M603.85 1310.87H612.25" stroke="#1c1c1c" stroke-width="1.2" fill="none"/><path d="M608.05 1182.35V1190.35" stroke="#1c1c1c" stroke-width="1" fill="none"/><path d="M603.85 1182.35H612.25M603.85 1190.35H612.25" stroke="#1c1c1c" stroke-width="1.2" fill="none"/><path d="M630.35 1284.18V1325.99" stroke="#1c1c1c" stroke-width="1" fill="none"/><path d="M626.15 1284.18H634.55M626.15 1325.99H634.55" stroke="#1c1c1c" stroke-width="1.2" fill="none"/><path d="M184.75 1149.65L184.75 1156.55M181.76 1151.38L187.74 1154.82M187.74 1151.38L181.76 1154.82" stroke="#000" stroke-width="1.15"/><circle cx="184.75" cy="1149.65" r="1.05"/><circle cx="184.75" cy="1156.55" r="1.05"/><circle cx="181.76" cy="1151.38" r="1.05"/><circle cx="187.74" cy="1154.82" r="1.05"/><circle cx="187.74" cy="1151.38" r="1.05"/><circle cx="181.76" cy="1154.82" r="1.05"/><circle cx="184.75" cy="1153.1" r="1.45"/><path d="M250.95 1149.65L250.95 1156.55M247.96 1151.38L253.94 1154.82M253.94 1151.38L247.96 1154.82" stroke="#000" stroke-width="1.15"/><circle cx="250.95" cy="1149.65" r="1.05"/><circle cx="250.95" cy="1156.55" r="1.05"/><circle cx="247.96" cy="1151.38" r="1.05"/><circle cx="253.94" cy="1154.82" r="1.05"/><circle cx="253.94" cy="1151.38" r="1.05"/><circle cx="247.96" cy="1154.82" r="1.05"/><circle cx="250.95" cy="1153.1" r="1.45"/><path d="M274.05 1163.85L274.05 1170.75M271.06 1165.58L277.04 1169.02M277.04 1165.58L271.06 1169.02" stroke="#000" stroke-width="1.15"/><circle cx="274.05" cy="1163.85" r="1.05"/><circle cx="274.05" cy="1170.75" r="1.05"/><circle cx="271.06" cy="1165.58" r="1.05"/><circle cx="277.04" cy="1169.02" r="1.05"/><circle cx="277.04" cy="1165.58" r="1.05"/><circle cx="271.06" cy="1169.02" r="1.05"/><circle cx="274.05" cy="1167.3" r="1.45"/><path d="M406.15 1165.85L406.15 1172.75M403.16 1167.58L409.14 1171.02M409.14 1167.58L403.16 1171.02" stroke="#000" stroke-width="1.15"/><circle cx="406.15" cy="1165.85" r="1.05"/><circle cx="406.15" cy="1172.75" r="1.05"/><circle cx="403.16" cy="1167.58" r="1.05"/><circle cx="409.14" cy="1171.02" r="1.05"/><circle cx="409.14" cy="1167.58" r="1.05"/><circle cx="403.16" cy="1171.02" r="1.05"/><circle cx="406.15" cy="1169.3" r="1.45"/><path d="M451.95 1163.85L451.95 1170.75M448.96 1165.58L454.94 1169.02M454.94 1165.58L448.96 1169.02" stroke="#000" stroke-width="1.15"/><circle cx="451.95" cy="1163.85" r="1.05"/><circle cx="451.95" cy="1170.75" r="1.05"/><circle cx="448.96" cy="1165.58" r="1.05"/><circle cx="454.94" cy="1169.02" r="1.05"/><circle cx="454.94" cy="1165.58" r="1.05"/><circle cx="448.96" cy="1169.02" r="1.05"/><circle cx="451.95" cy="1167.3" r="1.45"/><path d="M474.25 1163.85L474.25 1170.75M471.26 1165.58L477.24 1169.02M477.24 1165.58L471.26 1169.02" stroke="#000" stroke-width="1.15"/><circle cx="474.25" cy="1163.85" r="1.05"/><circle cx="474.25" cy="1170.75" r="1.05"/><circle cx="471.26" cy="1165.58" r="1.05"/><circle cx="477.24" cy="1169.02" r="1.05"/><circle cx="477.24" cy="1165.58" r="1.05"/><circle cx="471.26" cy="1169.02" r="1.05"/><circle cx="474.25" cy="1167.3" r="1.45"/><path d="M518.65 1206.65L518.65 1213.55M515.66 1208.38L521.64 1211.82M521.64 1208.38L515.66 1211.82" stroke="#000" stroke-width="1.15"/><circle cx="518.65" cy="1206.65" r="1.05"/><circle cx="518.65" cy="1213.55" r="1.05"/><circle cx="515.66" cy="1208.38" r="1.05"/><circle cx="521.64" cy="1211.82" r="1.05"/><circle cx="521.64" cy="1208.38" r="1.05"/><circle cx="515.66" cy="1211.82" r="1.05"/><circle cx="518.65" cy="1210.1" r="1.45"/><path d="M539.45 1195.85L539.45 1202.75M536.46 1197.58L542.44 1201.02M542.44 1197.58L536.46 1201.02" stroke="#000" stroke-width="1.15"/><circle cx="539.45" cy="1195.85" r="1.05"/><circle cx="539.45" cy="1202.75" r="1.05"/><circle cx="536.46" cy="1197.58" r="1.05"/><circle cx="542.44" cy="1201.02" r="1.05"/><circle cx="542.44" cy="1197.58" r="1.05"/><circle cx="536.46" cy="1201.02" r="1.05"/><circle cx="539.45" cy="1199.3" r="1.45"/><path d="M606.65 1166.25L606.65 1173.15M603.66 1167.98L609.64 1171.42M609.64 1167.98L603.66 1171.42" stroke="#000" stroke-width="1.15"/><circle cx="606.65" cy="1166.25" r="1.05"/><circle cx="606.65" cy="1173.15" r="1.05"/><circle cx="603.66" cy="1167.98" r="1.05"/><circle cx="609.64" cy="1171.42" r="1.05"/><circle cx="609.64" cy="1167.98" r="1.05"/><circle cx="603.66" cy="1171.42" r="1.05"/><circle cx="606.65" cy="1169.7" r="1.45"/><path d="M380.85 1286.5H389.25" stroke="#1c1c1c" stroke-width="0.9"/><path d="M626.15 1303H634.55" stroke="#1c1c1c" stroke-width="0.9"/><path d="M72.85 963.1V1408.7H652.65" stroke="#000" stroke-width="1.9" fill="none"/><path d="M72.85 1408.7H81.05M72.85 1364.23H77.45M72.85 1319.76H81.05M72.85 1275.29H77.45M72.85 1230.82H81.05M72.85 1186.35H77.45M72.85 1141.88H81.05M72.85 1097.41H77.45M72.85 1052.94H81.05M72.85 1008.47H77.45M72.85 964H81.05M72.85 1408.7V1416.7M95.15 1408.7V1416.7M117.45 1408.7V1416.7M139.75 1408.7V1416.7M162.05 1408.7V1416.7M184.35 1408.7V1416.7M206.65 1408.7V1416.7M228.95 1408.7V1416.7M251.25 1408.7V1416.7M273.55 1408.7V1416.7M295.85 1408.7V1416.7M318.15 1408.7V1416.7M340.45 1408.7V1416.7M362.75 1408.7V1416.7M385.05 1408.7V1416.7M407.35 1408.7V1416.7M429.65 1408.7V1416.7M451.95 1408.7V1416.7M474.25 1408.7V1416.7M496.55 1408.7V1416.7M518.85 1408.7V1416.7M541.15 1408.7V1416.7M563.45 1408.7V1416.7M585.75 1408.7V1416.7M608.05 1408.7V1416.7M630.35 1408.7V1416.7M652.65 1408.7V1416.7" stroke="#000" stroke-width="1.9" fill="none"/><text transform="translate(63.85 1414) scale(0.91 1)" class="tl">0</text><text transform="translate(63.85 1325.06) scale(0.91 1)" class="tl">20</text><text transform="translate(63.85 1236.12) scale(0.91 1)" class="tl">40</text><text transform="translate(63.85 1147.18) scale(0.91 1)" class="tl">60</text><text transform="translate(63.85 1058.24) scale(0.91 1)" class="tl">80</text><text transform="translate(63.85 969.3) scale(0.91 1)" class="tl">100</text><text transform="translate(20.2 1248.85) rotate(-90) scale(0.985 1)" class="yt">Survival</text><text transform="translate(20.2 1149.45) rotate(-90) scale(0.88 1)" class="yt">%</text><rect x="606.6" y="1031.3" width="12.8" height="24" fill="#c4c4c4" stroke="#000" stroke-width="1.25"/><rect x="606.6" y="985.6" width="12.8" height="45.7" fill="#ff80ff" stroke="#000" stroke-width="1.25"/><path d="M613 983.3V987.4" stroke="#111" stroke-width="1.4" fill="none"/><path d="M609.25 983.3H616.75M609.25 987.4H616.75" stroke="#111" stroke-width="1.5" fill="none"/><path d="M613 1010.5V1051.8" stroke="#111" stroke-width="1.4" fill="none"/><path d="M609.25 1010.5H616.75M609.25 1051.8H616.75" stroke="#111" stroke-width="1.5" fill="none"/><path d="M600.3 1029.2 L596.2 1029.2 Q593.6 1029.2 593.6 1031.8 L593.6 1040.7 L592 1042.9 L593.6 1045.1 L593.6 1054.5 Q593.6 1057.1 596.2 1057.1 L600.3 1057.1" stroke="#000" stroke-width="1.35" fill="none" stroke-linejoin="round"/><path d="M587.9 1042.9H593.6" stroke="#000" stroke-width="1.35"/><path d="M626.1 984.2 L629.7 984.2 Q632.3 984.2 632.3 986.8 L632.3 1018.5 L633.9 1020.7 L632.3 1022.9 L632.3 1054.2 Q632.3 1056.8 629.7 1056.8 L626.1 1056.8" stroke="#000" stroke-width="1.35" fill="none" stroke-linejoin="round"/><path d="M641.2 1020.7H632.3" stroke="#000" stroke-width="1.35"/><text x="567" y="1051.8" class="lg">N</text><text x="656.8" y="1029.6" class="lg">C</text>
<text transform="translate(97.05 1434.9) rotate(-45)" class="xl">baseline</text>
<text transform="translate(119.35 1434.9) rotate(-45)" class="xl">DQ01</text>
<text transform="translate(141.65 1434.9) rotate(-45)" class="xl">DQ02</text>
<text transform="translate(163.95 1434.9) rotate(-45)" class="xl">DQ03</text>
<text transform="translate(186.25 1434.9) rotate(-45)" class="xl">DQ04</text>
<text transform="translate(208.55 1434.9) rotate(-45)" class="xl">HL01</text>
<text transform="translate(230.85 1434.9) rotate(-45)" class="xl">HL02</text>
<text transform="translate(253.15 1434.9) rotate(-45)" class="xl">HL03</text>
<text transform="translate(275.45 1434.9) rotate(-45)" class="xl">HL04</text>
<text transform="translate(297.75 1434.9) rotate(-45)" class="xl">HL05</text>
<text transform="translate(320.05 1434.9) rotate(-45)" class="xl">HL06</text>
<text transform="translate(342.35 1434.9) rotate(-45)" class="xl">TM01</text>
<text transform="translate(364.65 1434.9) rotate(-45)" class="xl">TM02</text>
<text transform="translate(386.95 1434.9) rotate(-45)" class="xl">ZY01</text>
<text transform="translate(409.25 1434.9) rotate(-45)" class="xl">ZY02</text>
<text transform="translate(431.55 1434.9) rotate(-45)" class="xl">ZY03</text>
<text transform="translate(453.85 1434.9) rotate(-45)" class="xl">ZY04</text>
<text transform="translate(476.15 1434.9) rotate(-45)" class="xl">ZY05</text>
<text transform="translate(498.45 1434.9) rotate(-45)" class="xl">ZY06</text>
<text transform="translate(520.75 1434.9) rotate(-45)" class="xl">ZY07</text>
<text transform="translate(543.05 1434.9) rotate(-45)" class="xl">ZY08</text>
<text transform="translate(565.35 1434.9) rotate(-45)" class="xl">ZY09</text>
<text transform="translate(587.65 1434.9) rotate(-45)" class="xl">ZY10</text>
<text transform="translate(609.95 1434.9) rotate(-45)" class="xl">ZY11</text>
<text transform="translate(632.25 1434.9) rotate(-45)" class="xl">ZY12</text>
<text x="367.2" y="1487.3" class="xt">Sites</text></svg></body></html>
